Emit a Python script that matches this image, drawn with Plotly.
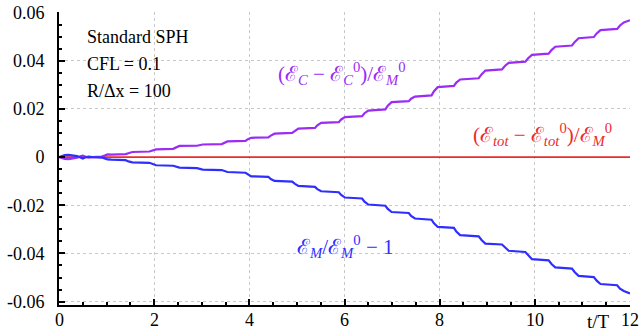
import plotly.graph_objects as go

# time (t/T)
t_vals = [0, 0.05, 0.12, 0.2, 0.3, 0.38, 0.45, 0.5, 0.55, 0.62, 0.7, 0.8, 0.9, 0.96, 1.02, 1.1,
          1.4, 1.46, 1.54, 1.9, 1.96, 2.04, 2.4, 2.45, 2.53, 2.9, 2.95, 3.02, 3.42, 3.47, 3.54,
          3.92, 3.97, 4.04, 4.4, 4.45, 4.53, 4.9, 4.96, 5.03, 5.38, 5.43, 5.51, 5.88, 5.93, 6.01,
          6.37, 6.42, 6.5, 6.86, 6.91, 6.99, 7.35, 7.4, 7.48, 7.83, 7.88, 7.96, 8.3, 8.35, 8.43,
          8.82, 8.88, 8.96, 9.31, 9.37, 9.45, 9.8, 9.86, 9.94, 10.29, 10.35, 10.43, 10.78, 10.84,
          10.92, 11.24, 11.3, 11.38, 11.73, 11.79, 11.87, 12.0]

# (E_C - E_C^0)/E_M^0
e_c = [0, -0.0004, -0.0008, -0.0009, -0.0007, -0.0003, 0.0003, 0.0006, 0.0002, -0.0002, 0.0, 0.0001,
       0.0002, 0.0006, 0.0011, 0.0010, 0.0012, 0.0016, 0.0021, 0.0023, 0.0028, 0.0032, 0.0034,
       0.0040, 0.0046, 0.0047, 0.0049, 0.0052, 0.0054, 0.0060, 0.0065, 0.0067, 0.0074, 0.0080,
       0.0082, 0.0089, 0.0097, 0.0100, 0.0109, 0.0118, 0.0121, 0.0132, 0.0142, 0.0145, 0.0156,
       0.0166, 0.0170, 0.0182, 0.0193, 0.0198, 0.0213, 0.0228, 0.0232, 0.0242, 0.0251, 0.0256,
       0.0273, 0.0290, 0.0295, 0.0309, 0.0322, 0.0327, 0.0343, 0.0359, 0.0364, 0.0378, 0.0391,
       0.0396, 0.0410, 0.0424, 0.0429, 0.0444, 0.0458, 0.0463, 0.0478, 0.0493, 0.0498, 0.0513,
       0.0527, 0.0532, 0.0546, 0.0559, 0.0568]

# E_M/E_M^0 - 1
e_m = [0, 0.0004, 0.0008, 0.0009, 0.0007, 0.0004, -0.0002, -0.0006, -0.0002, 0.0002, 0.0, -0.0001,
       -0.0002, -0.0006, -0.0010, -0.0011, -0.0013, -0.0018, -0.0022, -0.0024, -0.0029, -0.0034,
       -0.0036, -0.0040, -0.0044, -0.0046, -0.0049, -0.0052, -0.0054, -0.0058, -0.0062, -0.0065,
       -0.0072, -0.0080, -0.0082, -0.0091, -0.0099, -0.0102, -0.0111, -0.0120, -0.0124, -0.0133,
       -0.0142, -0.0146, -0.0157, -0.0168, -0.0172, -0.0185, -0.0197, -0.0202, -0.0215, -0.0228,
       -0.0232, -0.0244, -0.0255, -0.0260, -0.0275, -0.0290, -0.0294, -0.0309, -0.0324, -0.0329,
       -0.0344, -0.0359, -0.0363, -0.0376, -0.0389, -0.0394, -0.0409, -0.0424, -0.0429, -0.0444,
       -0.0458, -0.0463, -0.0478, -0.0493, -0.0498, -0.0513, -0.0527, -0.0532, -0.0546, -0.0556,
       -0.0566]

# (E_tot - E_tot^0)/E_M^0
t_tot = [0, 12]
e_tot = [0, 0]

x_ticks = [0, 2, 4, 6, 8, 10, 12]
x_tick_text = ["0", "2", "4", "6", "8", "10", "12"]
y_ticks = [-0.06, -0.04, -0.02, 0, 0.02, 0.04, 0.06]
y_tick_text = ["-0.06", "-0.04", "-0.02", "0", "0.02", "0.04", "0.06"]

PURPLE = "#9a2cf5"
BLUE = "#2e2eff"
RED = "#ee2a2a"
FONT = "Liberation Serif"

fig = go.Figure()
fig.add_trace(go.Scatter(x=t_tot, y=e_tot, mode="lines", line=dict(color=RED, width=1.8)))
fig.add_trace(go.Scatter(x=t_vals, y=e_c, mode="lines", line=dict(color=PURPLE, width=2.2)))
fig.add_trace(go.Scatter(x=t_vals, y=e_m, mode="lines", line=dict(color=BLUE, width=2.2)))

axis_common = dict(
    showline=True, linecolor="black", linewidth=2, automargin=False,
    showgrid=True, gridcolor="#c8c8c8", griddash="dot", gridwidth=1,
    zeroline=False, ticks="inside", ticklen=6, tickwidth=1.5, tickcolor="black",
    tickfont=dict(family=FONT, size=18, color="black"),
)

fig.update_xaxes(range=[0, 12], tickvals=x_ticks, ticktext=x_tick_text, showticklabels=False,
                 minor=dict(dtick=0.5, ticks="inside", ticklen=3, tickcolor="black", showgrid=False),
                 **axis_common)
fig.update_yaxes(range=[-0.0614, 0.0602], tickvals=y_ticks, ticktext=y_tick_text,
                 minor=dict(dtick=0.005, ticks="inside", ticklen=3, tickcolor="black", showgrid=False),
                 ticklabelstandoff=9, **axis_common)

ann = []
# x tick labels placed just below the axis
for xv, xt in zip(x_ticks, x_tick_text):
    ann.append(dict(x=xv, y=-0.012, xref="x", yref="paper", text=xt, showarrow=False,
                    xanchor="center", yanchor="top", borderpad=0,
                    font=dict(family=FONT, size=18, color="black")))

for txt, yv in [("Standard SPH", 0.0500), ("CFL = 0.1", 0.0388), ("R/\u0394x = 100", 0.0276)]:
    ann.append(dict(x=0.55, y=yv, xref="x", yref="y", text=txt, showarrow=False,
                    xanchor="left", yanchor="middle", font=dict(family=FONT, size=18, color="black")))

E = "\u2130"
ann.append(dict(x=5.94, y=0.0345, xref="x", yref="y", showarrow=False,
                text=f"({E}<sub><i>C</i></sub> \u2212 {E}<sub><i>C</i></sub><sup>0</sup>)/{E}<sub><i>M</i></sub><sup>0</sup>",
                font=dict(family=FONT, size=21, color=PURPLE)))
ann.append(dict(x=10.17, y=0.0094, xref="x", yref="y", showarrow=False,
                text=f"({E}<sub><i>tot</i></sub> \u2212 {E}<sub><i>tot</i></sub><sup>0</sup>)/{E}<sub><i>M</i></sub><sup>0</sup>",
                font=dict(family=FONT, size=21, color=RED)))
ann.append(dict(x=6.02, y=-0.037, xref="x", yref="y", showarrow=False,
                text=f"{E}<sub><i>M</i></sub>/{E}<sub><i>M</i></sub><sup>0</sup> \u2212 1",
                font=dict(family=FONT, size=21, color=BLUE)))
ann.append(dict(x=11.33, y=-0.058, xref="x", yref="paper", showarrow=False, text="t/T",
                yanchor="middle", borderpad=0, font=dict(family=FONT, size=19, color="black")))

fig.update_layout(
    width=641, height=331,
    margin=dict(l=59, r=11, t=12, b=26),
    paper_bgcolor="white", plot_bgcolor="white",
    font=dict(family=FONT),
    showlegend=False, annotations=ann,
)

fig.write_html("out.html", config={"displayModeBar": False},
               post_script="document.body.style.margin='0';document.body.style.overflow='hidden';")
